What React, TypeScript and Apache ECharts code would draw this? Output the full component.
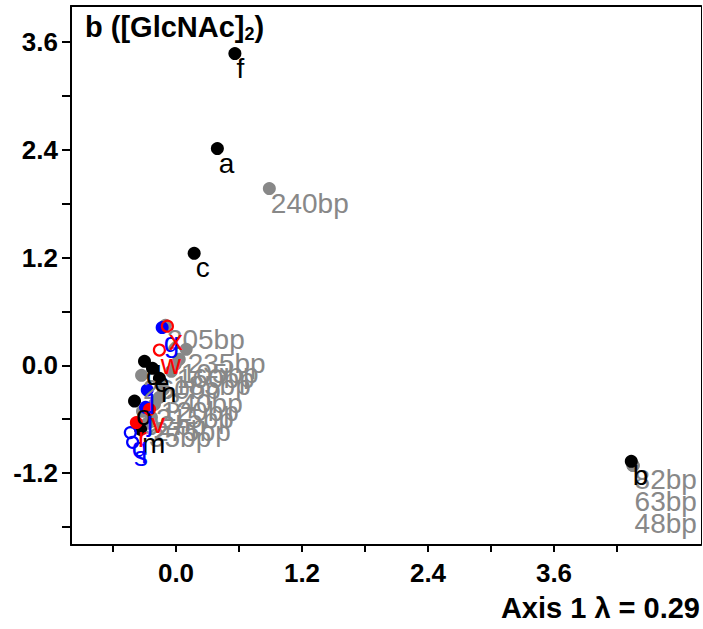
import React, { useEffect, useRef } from 'react';
import * as echarts from 'echarts';

// Axis ticks / labels
const xTickValues = [-0.6, 0, 0.6, 1.2, 1.8, 2.4, 3.0, 3.6, 4.2];
const xLabelValues = [0, 1.2, 2.4, 3.6];
const yTickValues = [-1.8, -1.2, -0.6, 0, 0.6, 1.2, 1.8, 2.4, 3.0, 3.6];
const yLabelValues = [-1.2, 0, 1.2, 2.4, 3.6];

// Black filled points
const blackNames = ['f', 'a', 'c', 'b', 'd', 'e', 'n', 'o', 'm'];
const blackX = [0.561, 0.394, 0.173, 4.336, -0.300, -0.224, -0.158, -0.395, -0.337];
const blackY = [3.471, 2.413, 1.247, -1.069, 0.045, -0.033, -0.145, -0.398, -0.713];

// Grey filled points (fragments)
const greyNames = ['240bp', '205bp', '235bp', '105bp', '160bp', '185bp', '260bp', '340bp', '120bp', '215bp', '92bp', '275bp', '35bp'];
const greyX = [0.889, -0.101, 0.097, 0.031, -0.007, -0.044, -0.328, -0.120, -0.158, -0.205, -0.319, -0.234, -0.272];
const greyY = [1.968, 0.445, 0.178, 0.067, 0.011, -0.067, -0.111, -0.267, -0.356, -0.434, -0.512, -0.579, -0.646];

// Grey points sharing one spot next to "b"
const greyStackNames = ['82bp', '63bp', '48bp'];
const greyStackX = [4.353, 4.353, 4.353];
const greyStackY = [-1.114, -1.114, -1.114];

// Red filled / open points
const redNames = ['r', 'v'];
const redX = [-0.378, -0.252];
const redY = [-0.637, -0.490];
const redOpenNames = ['x', 'w'];
const redOpenX = [-0.082, -0.158];
const redOpenY = [0.436, 0.170];

// Blue filled / open points
const blueNames = ['g', 'l', 'j'];
const blueX = [-0.132, -0.274, -0.290];
const blueY = [0.420, -0.275, -0.468];
const blueOpenNames = ['q', 's'];
const blueOpenX = [-0.435, -0.413];
const blueOpenY = [-0.749, -0.857];

const FONT = '"Liberation Sans", Arial, Helvetica, sans-serif';
const GREY = '#888888';

function pts(xs: number[], ys: number[], names: string[]) {
  return xs.map((x, i) => ({ value: [x, ys[i]], name: names[i] }));
}

export default function App() {
  const ref = useRef<HTMLDivElement>(null);
  useEffect(() => {
    document.body.style.margin = '0';
    const chart = echarts.init(ref.current!, null, { renderer: 'svg' });
    const labelBase = {
      show: true,
      position: [8, 7],
      align: 'left',
      verticalAlign: 'top',
      fontSize: 28,
      fontFamily: FONT,
      formatter: (p: any) => p.name,
    };
    const mk = (name: string, data: any[], color: string, filled: boolean, extra: any = {}) => ({
      type: 'scatter',
      name,
      data,
      symbol: 'circle',
      symbolSize: filled ? 13 : 11,
      itemStyle: filled
        ? { color, opacity: 1 }
        : { color: 'rgba(255,255,255,0)', borderColor: color, borderWidth: 2.2, opacity: 1 },
      label: { ...labelBase, color },
      emphasis: { disabled: true },
      ...extra,
    });
    const axisLineStyle = { color: '#000', width: 2 };
    chart.setOption({
      animation: false,
      grid: { left: 71, top: 6, right: 2, bottom: 84 },
      xAxis: [
        {
          type: 'value', min: -1, max: 5,
          axisLine: { onZero: false, lineStyle: axisLineStyle },
          axisTick: { show: true, customValues: xTickValues, length: 7, lineStyle: axisLineStyle },
          axisLabel: {
            customValues: xLabelValues, formatter: (v: number) => v.toFixed(1),
            fontSize: 26, fontWeight: 'bold', color: '#000', fontFamily: FONT, margin: 15,
          },
          splitLine: { show: false },
        },
        {
          type: 'value', min: -1, max: 5, position: 'top',
          axisLine: { onZero: false, lineStyle: axisLineStyle },
          axisTick: { show: false }, axisLabel: { show: false }, splitLine: { show: false },
        },
      ],
      yAxis: [
        {
          type: 'value', min: -2, max: 4,
          axisLine: { onZero: false, lineStyle: axisLineStyle },
          axisTick: { show: true, customValues: yTickValues, length: 9, lineStyle: axisLineStyle },
          axisLabel: {
            customValues: yLabelValues, formatter: (v: number) => v.toFixed(1),
            fontSize: 26, fontWeight: 'bold', color: '#000', fontFamily: FONT, margin: 13,
          },
          splitLine: { show: false },
        },
        {
          type: 'value', min: -2, max: 4, position: 'right',
          axisLine: { onZero: false, lineStyle: { color: '#000', width: 1 } },
          axisTick: { show: false }, axisLabel: { show: false }, splitLine: { show: false },
        },
      ],
      graphic: [
        {
          type: 'text', left: 85, top: 12,
          style: {
            text: '{a|b ([GlcNAc]}{s|2}{a|)}',
            rich: {
              a: { fontSize: 29, fontWeight: 'bold', fontFamily: FONT, fill: '#000', color: '#000' },
              s: { fontSize: 18, fontWeight: 'bold', fontFamily: FONT, fill: '#000', color: '#000', padding: [15, 0, 0, 0] },
            },
          },
        },
        {
          type: 'text', right: 3, bottom: 7,
          style: { text: 'Axis 1 λ = 0.29', font: `bold 29px ${FONT}`, fill: '#000' },
        },
      ],
      series: [
        mk('grey', pts(greyX, greyY, greyNames), GREY, true),
        mk('greyStack', pts(greyStackX, greyStackY, greyStackNames), GREY, true, {
          labelLayout: (p: any) => ({ dy: p.dataIndex * 22 }),
        }),
        mk('black', pts(blackX, blackY, blackNames), '#000000', true),
        mk('blueOpen', pts(blueOpenX, blueOpenY, blueOpenNames), '#0000ff', false),
        mk('blue', pts(blueX, blueY, blueNames), '#0000ff', true),
        mk('redOpen', pts(redOpenX, redOpenY, redOpenNames), '#ff0000', false),
        mk('red', pts(redX, redY, redNames), '#ff0000', true),
      ],
    });
    return () => chart.dispose();
  }, []);
  return <div ref={ref} style={{ width: 703, height: 629 }} />;
}
